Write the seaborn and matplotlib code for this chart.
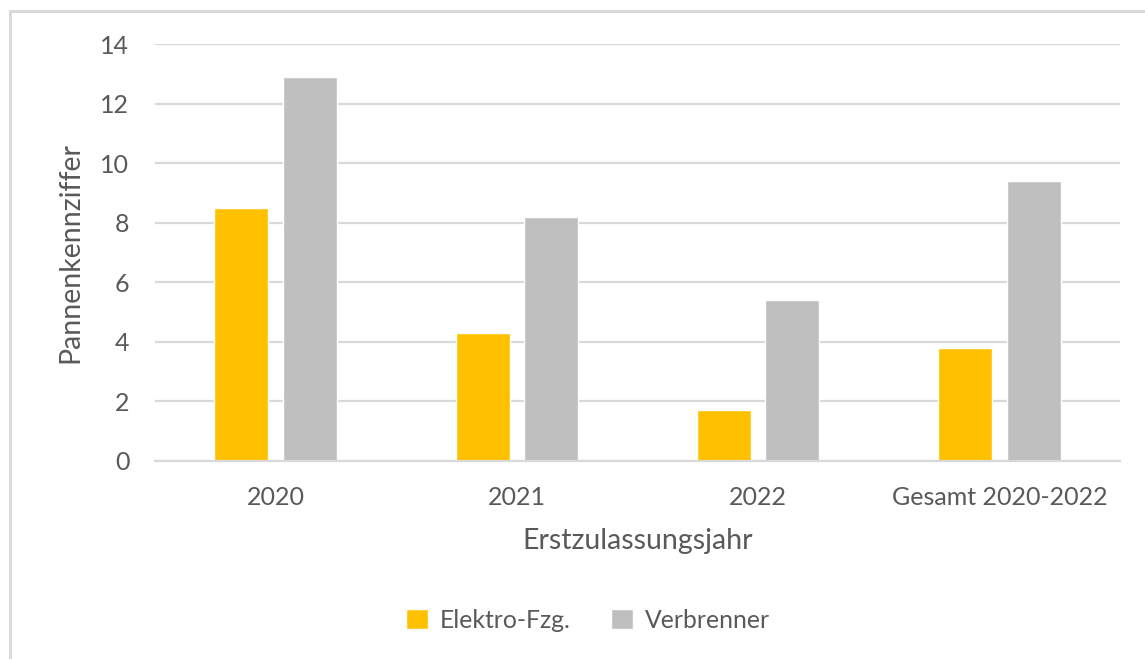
import matplotlib
matplotlib.use("Agg")
import matplotlib.pyplot as plt
import seaborn as sns
import pandas as pd
from matplotlib.lines import Line2D

categories = ["2020", "2021", "2022", "Gesamt 2020-2022"]
elektro = [8.5, 4.3, 1.7, 3.8]
verbrenner = [12.9, 8.2, 5.4, 9.4]
series_names = ["Elektro-Fzg.", "Verbrenner"]
y_ticks = [0, 2, 4, 6, 8, 10, 12, 14]

df = pd.DataFrame({
    "Erstzulassungsjahr": categories * 2,
    "Wert": elektro + verbrenner,
    "Serie": [series_names[0]] * len(categories) + [series_names[1]] * len(categories),
})

sns.set_theme(style="white")
plt.rcParams['font.family'] = ['Lato', 'DejaVu Sans']
text_color = "#595959"
grid_color = "#d9d9d9"

fig = plt.figure(figsize=(11.45, 6.59), dpi=100)
ax = fig.add_axes([155/1145, 1 - 461/659, (1120-155)/1145, (461-44)/659])

sns.barplot(data=df, x="Erstzulassungsjahr", y="Wert", hue="Serie",
            palette=["#ffc000", "#bfbfbf"], width=0.568, gap=0.21,
            saturation=1, ax=ax, legend=True)

ax.set_xlim(-0.5, 3.5)
ax.set_ylim(0, 14)
ax.set_yticks(y_ticks)
ax.set_yticklabels([str(t) for t in y_ticks])
ax.grid(axis="y", color=grid_color, linewidth=1.6, zorder=0)
ax.set_axisbelow(True)
for s in ["top", "right", "left"]:
    ax.spines[s].set_visible(False)
ax.spines["bottom"].set_color(grid_color)
ax.spines["bottom"].set_linewidth(1.6)

ax.tick_params(axis="x", length=0, pad=18, labelsize=18, labelcolor=text_color)
ax.tick_params(axis="y", length=0, pad=18.5, labelsize=18, labelcolor=text_color)
ax.set_xlabel("Erstzulassungsjahr", fontsize=20.5, color=text_color, labelpad=14)
ax.set_ylabel("Pannenkennziffer", fontsize=20.5, color=text_color, labelpad=12)

leg = ax.legend(loc="center", bbox_to_anchor=(588/1145, 1 - 620/659),
                bbox_transform=fig.transFigure, ncol=2, frameon=False,
                fontsize=17.8, handlelength=0.9, handleheight=0.9,
                handletextpad=0.5, columnspacing=1.6)
for t in leg.get_texts():
    t.set_color(text_color)

fig.add_artist(Line2D([10/1145, 1], [1 - 11/659, 1 - 11/659], transform=fig.transFigure,
                      color=grid_color, linewidth=2.2))
fig.add_artist(Line2D([10/1145, 10/1145], [0, 1 - 11/659], transform=fig.transFigure,
                      color=grid_color, linewidth=2.2))

fig.savefig("out.png", dpi=100, facecolor="white")
